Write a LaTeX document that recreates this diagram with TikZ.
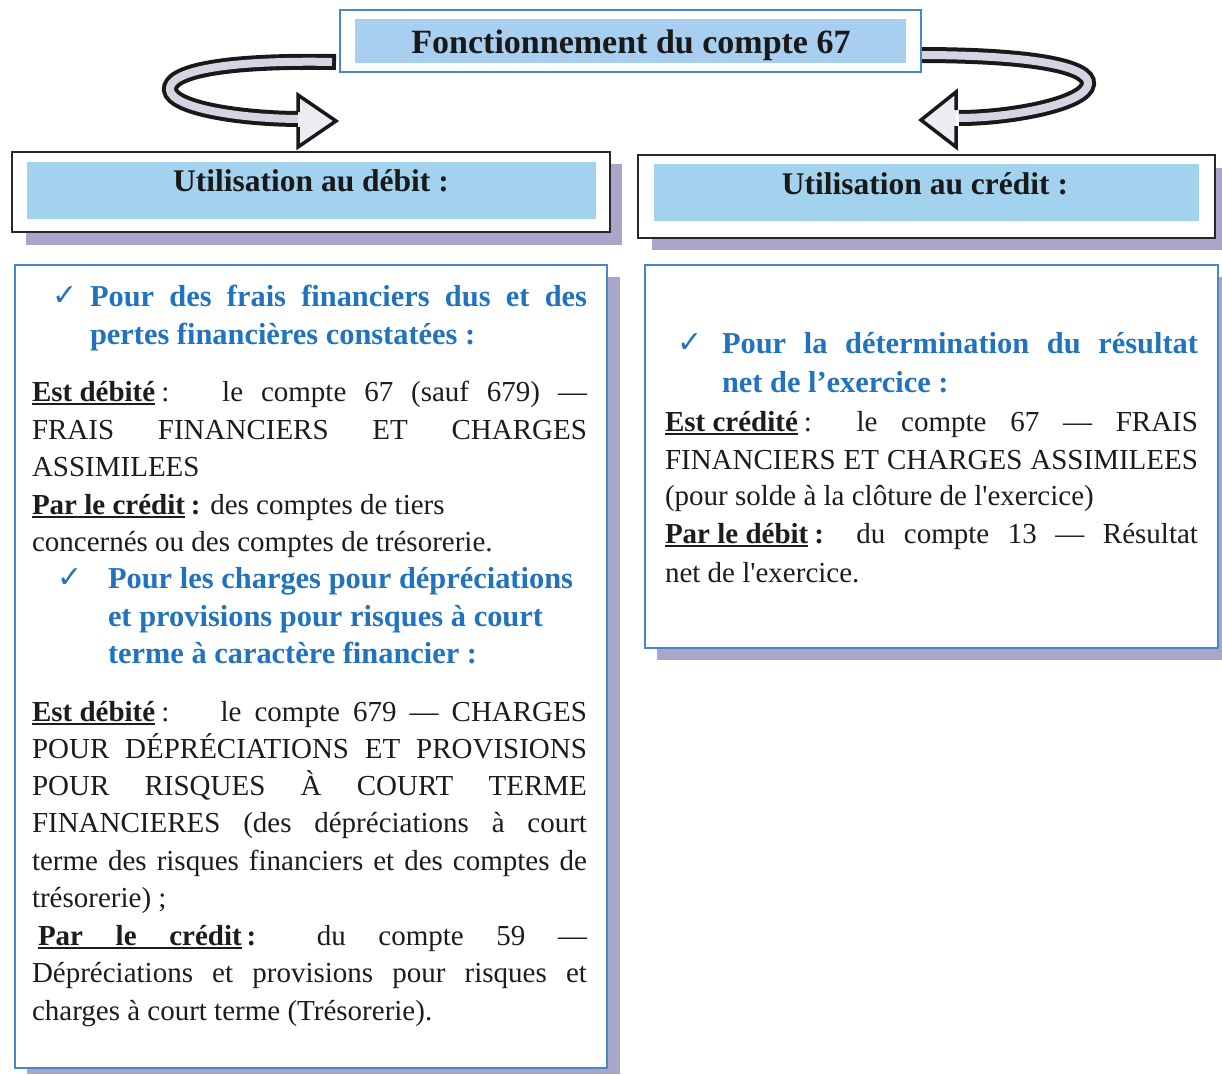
\documentclass[tikz,border=0pt]{standalone}
\usepackage{fontspec}
\setmainfont{Liberation Serif}
\newfontfamily\bodyfont{Liberation Serif}
\newfontfamily\symfont{DejaVu Sans}
\usetikzlibrary{calc}
\definecolor{headblue}{RGB}{33,115,190}
\definecolor{boxblue}{RGB}{70,135,200}
\definecolor{bandblue}{RGB}{163,210,238}
\definecolor{titleband}{RGB}{168,206,240}
\definecolor{shadowc}{RGB}{170,165,202}
\definecolor{ink}{RGB}{28,28,28}
\definecolor{ribbongray}{RGB}{214,212,226}
\newsavebox\ulbox
\newcommand{\ulw}[1]{\sbox\ulbox{#1}\rlap{\rule[-3.8pt]{\wd\ulbox}{1.8pt}}\usebox\ulbox}
\newcommand{\ulgap}{\leaders\hrule height -2pt depth 3.8pt\hskip\fontdimen2\font plus\fontdimen3\font minus\fontdimen4\font\relax}
\tikzset{
  body/.style={anchor=base west, inner sep=0pt, outer sep=0pt, text=ink, font=\bodyfont\fontsize{29}{35}\selectfont},
  bhead/.style={anchor=base west, inner sep=0pt, outer sep=0pt, text=headblue, font=\bodyfont\fontsize{30.4}{36}\selectfont\bfseries},
  chk/.style={anchor=base west, inner sep=0pt, outer sep=0pt, text=headblue, font=\symfont\fontsize{30}{32}\selectfont},
  titlebox/.style={draw=boxblue, line width=2pt, fill=white, inner sep=0pt},
  hdrbox/.style={draw=black!85, line width=2.5pt, fill=white, inner sep=0pt},
  contbox/.style={draw=boxblue, line width=2pt, fill=white, inner sep=0pt},
  hdrtext/.style={anchor=base, inner sep=0pt, text=black!90, font=\bodyfont\fontsize{31.5}{36}\selectfont\bfseries},
  ribbonout/.style={line width=16pt, black!90},
  ribbonin/.style={line width=8pt, ribbongray},
  headfill/.style={fill=ribbongray!45},
  headline/.style={draw=black!90, line width=3.5pt, line join=miter},
}
\newcommand{\jl}[5]{\node[body] (#1) at (#2,#3) {\makebox[#4pt][s]{#5}};}
\newcommand{\jh}[5]{\node[bhead] (#1) at (#2,#3) {\makebox[#4pt][s]{#5}};}
\begin{document}
\begin{tikzpicture}[x=1pt,y=-1pt]
\useasboundingbox (0,0) rectangle (1222,1074);
\fill[white] (0,0) rectangle (1222,1074);

% ribbons
\coordinate (lstart) at (336,62);
\coordinate (lend) at (302,119);
\coordinate (rstart) at (918,55);
\coordinate (rend) at (959,118);
\draw[ribbonout] (lstart) .. controls (220,60) and (168,72) .. (170,90) .. controls (172,108) and (240,119) .. (lend);
\draw[ribbonin, shorten <=4pt] (lstart) .. controls (220,60) and (168,72) .. (170,90) .. controls (172,108) and (240,119) .. (lend);
\fill[headfill] (298,95) -- (336,121) -- (298,147) -- cycle;
\draw[headline] (298,112) -- (298,95) -- (336,121) -- (298,147) -- (298,127);
\draw[ribbonout] (rstart) .. controls (1030,55) and (1090,66) .. (1088,84) .. controls (1086,104) and (1010,118) .. (rend);
\draw[ribbonin] (rstart) .. controls (1030,55) and (1090,66) .. (1088,84) .. controls (1086,104) and (1010,118) .. (rend);
\fill[headfill] (956,92) -- (921,120) -- (956,147) -- cycle;
\draw[headline] (956,110) -- (956,92) -- (921,120) -- (956,147) -- (956,126);

% title
\node[titlebox, minimum width=581, minimum height=62] (title) at (630.5,41) {};
\fill[titleband] ($(title.south west)+(16,-10)$) rectangle ($(title.north east)+(-16,10)$);
\node[hdrtext, font=\bodyfont\fontsize{34}{38}\selectfont\bfseries] (titletext) at (631,53) {Fonctionnement du compte 67};

% headers
\fill[shadowc] (26,164) rectangle (622,245);
\node[hdrbox, minimum width=598, minimum height=80] (hdl) at (311,192) {};
\fill[bandblue] ($(hdl.south west)+(16,-14)$) rectangle ($(hdl.north east)+(-15,11)$);
\node[hdrtext] (hdltext) at (311,191) {Utilisation au débit :};

\fill[shadowc] (652,168) rectangle (1222,250);
\node[hdrbox, minimum width=577, minimum height=83] (hdr) at (926.5,196.5) {};
\fill[bandblue] ($(hdr.south west)+(17,-18)$) rectangle ($(hdr.north east)+(-17,10)$);
\node[hdrtext] (hdrtext) at (925,194) {Utilisation au crédit :};

% content boxes
\fill[shadowc] (27,277) rectangle (620,1074);
\node[contbox, minimum width=592, minimum height=803] (boxl) at (311,666.5) {};
\fill[shadowc] (657,277) rectangle (1222,660);
\node[contbox, minimum width=573, minimum height=383] (boxr) at (931.5,456.5) {};

% left box text
\node[chk] (c1) at (52,305) {✓};
\jh{l1}{90}{306}{497}{Pour des frais financiers dus et des}
\node[bhead] (l2) at (90,344) {pertes financières constatées :};
\jl{l3}{32}{401}{555}{\ulw{\textbf{Est débité}}\hspace{6pt}:\hspace{22pt} le compte 67 (sauf 679) —}
\jl{l4}{32}{439}{555}{FRAIS FINANCIERS ET CHARGES}
\node[body] (l5) at (32,476) {ASSIMILEES};
\node[body] (l6) at (32,514) {\ulw{\textbf{Par le crédit}}\hspace{6pt}\textbf{:} des comptes de tiers};
\node[body] (l7) at (32,551) {concernés ou des comptes de trésorerie.};
\node[chk] (c2) at (57,587) {✓};
\jh{l8}{108}{588}{465}{Pour les charges pour dépréciations}
\jh{l9}{108}{626}{435}{et provisions pour risques à court}
\node[bhead] (l10) at (108,663) {terme à caractère financier :};
\jl{l11}{32}{721}{555}{\ulw{\textbf{Est débité}}\hspace{6pt}:\hspace{30pt} le compte 679 — CHARGES}
\jl{l12}{32}{758}{555}{POUR DÉPRÉCIATIONS ET PROVISIONS}
\jl{l13}{32}{795}{555}{POUR RISQUES À COURT TERME}
\jl{l14}{32}{832}{555}{FINANCIERES (des dépréciations à court}
\jl{l15}{32}{870}{555}{terme des risques financiers et des comptes de}
\node[body] (l16) at (32,907) {trésorerie) ;};
\jl{l17}{38}{945}{549}{\textbf{\ulw{Par}\ulgap\ulw{le}\ulgap\ulw{crédit}}\hspace{5pt}\textbf{:} du compte 59 —}
\jl{l18}{32}{982}{555}{Dépréciations et provisions pour risques et}
\node[body] (l19) at (32,1020) {charges à court terme (Trésorerie).};

% right box text
\node[chk] (c3) at (677,352) {✓};
\jh{r1}{722}{353}{476}{Pour la détermination du résultat}
\node[bhead] (r2) at (722,392) {net de l’exercice :};
\jl{r3}{665}{431}{533}{\ulw{\textbf{Est crédité}}\hspace{6pt}:\hspace{2pt} le compte 67 — FRAIS}
\jl{r4}{665}{469}{533}{FINANCIERS ET CHARGES ASSIMILEES}
\node[body] (r5) at (665,505) {(pour solde à la clôture de l'exercice)};
\jl{r6}{665}{543}{533}{\ulw{\textbf{Par le débit}}\hspace{6pt}\textbf{:} du compte 13 — Résultat}
\node[body] (r7) at (665,582) {net de l'exercice.};
\end{tikzpicture}
\end{document}
